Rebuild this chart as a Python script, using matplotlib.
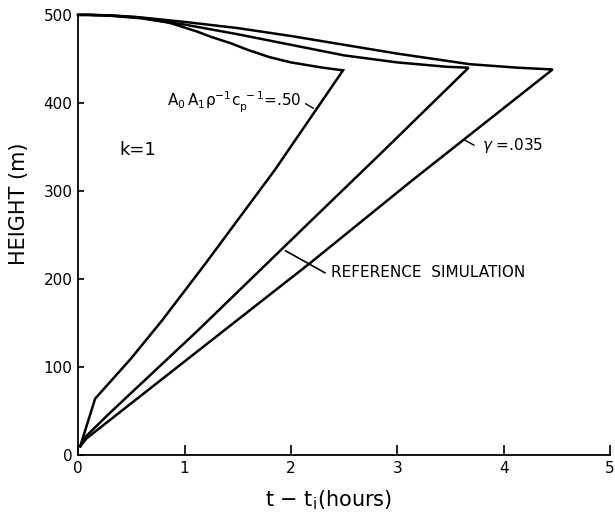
import matplotlib
matplotlib.use('Agg')
import matplotlib.pyplot as plt

plt.rcParams['mathtext.fontset'] = 'dejavusans'

# curve 1: A0 A1 rho^-1 cp^-1 = .50
c1_rise_x = [0.02, 0.16, 0.50, 0.79, 1.20, 1.85, 2.49]
c1_rise_y = [10, 64, 110, 153, 218, 324, 437]
c1_fall_x = [2.49, 2.30, 2.00, 1.80, 1.60, 1.43, 1.25, 1.12, 0.86, 0.55, 0.30, 0.10, 0.0]
c1_fall_y = [437, 440, 446, 452, 460, 468, 475, 481, 491, 497.5, 499.5, 500, 500]

# curve 2: reference simulation
c2_rise_x = [0.02, 0.08, 0.30, 1.13, 2.18, 2.84, 3.67]
c2_rise_y = [10, 22, 48, 142, 265, 342, 440]
c2_fall_x = [3.67, 3.47, 3.00, 2.50, 2.00, 1.50, 1.00, 0.60, 0.30, 0.10, 0.0]
c2_fall_y = [440, 441, 446, 454, 466, 478, 489, 496, 499, 500, 500]

# curve 3: gamma = .035
c3_rise_x = [0.02, 0.08, 1.24, 2.18, 3.14, 4.46]
c3_rise_y = [10, 19, 129, 218, 312, 438]
c3_fall_x = [4.46, 4.13, 3.68, 3.00, 2.50, 2.00, 1.50, 1.00, 0.60, 0.30, 0.10, 0.0]
c3_fall_y = [438, 440, 444, 456, 466, 476, 485, 492, 497, 499.3, 500, 500]

x_ticks = [0, 1, 2, 3, 4, 5]
y_ticks = [0, 100, 200, 300, 400, 500]

fig = plt.figure(figsize=(6.15, 5.13), dpi=100)
ax = fig.add_axes([0.127, 0.113, 0.865, 0.858])

for rx, ry, fx, fy in [(c1_rise_x, c1_rise_y, c1_fall_x, c1_fall_y),
                       (c2_rise_x, c2_rise_y, c2_fall_x, c2_fall_y),
                       (c3_rise_x, c3_rise_y, c3_fall_x, c3_fall_y)]:
    ax.plot(rx + fx[1:], ry + fy[1:], color='black', lw=1.8,
            solid_joinstyle='miter', clip_on=False)

ax.set_xlim(0, 5)
ax.set_ylim(0, 500)
ax.set_xticks(x_ticks)
ax.set_yticks(y_ticks)
ax.spines['top'].set_visible(False)
ax.spines['right'].set_visible(False)
ax.spines['left'].set_linewidth(1.3)
ax.spines['bottom'].set_linewidth(1.3)
ax.tick_params(axis='x', direction='in', length=7, width=1.2, labelsize=11, pad=4)
ax.tick_params(axis='y', direction='in', length=4, width=1.2, labelsize=11, pad=4)

ax.set_ylabel('HEIGHT (m)', fontsize=15)
ax.yaxis.set_label_coords(-0.092, 0.57)
ax.set_xlabel(r't $-$ t$_\mathrm{i}$(hours)', fontsize=15)
ax.xaxis.set_label_coords(0.47, -0.075)

ax.text(0.56, 347, 'k=1', fontsize=13, ha='center', va='center')
ax.text(2.1, 400, r'$\mathrm{A_0\,A_1\rho^{-1}c_p^{\ -1}}$=.50', fontsize=11,
        ha='right', va='center')
ax.plot([2.14, 2.21], [399, 394], color='black', lw=1)
ax.text(3.8, 352, r'$\gamma$ =.035', fontsize=11, ha='left', va='center')
ax.plot([3.63, 3.72], [358, 352], color='black', lw=1)
ax.text(2.38, 207, 'REFERENCE  SIMULATION', fontsize=11, ha='left', va='center')
ax.plot([1.95, 2.32], [232, 207], color='black', lw=1.2)

fig.savefig('out.png', dpi=100)
